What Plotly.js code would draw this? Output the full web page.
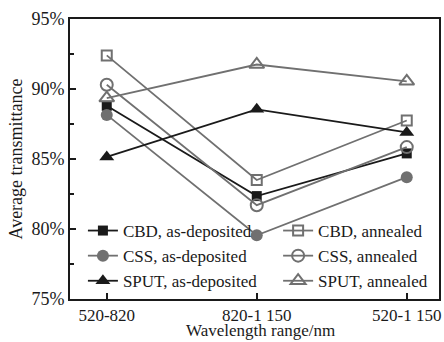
<!DOCTYPE html>
<html>
<head>
<meta charset="utf-8">
<script src="https://cdn.plot.ly/plotly-3.0.1.min.js"></script>
<style>html,body{margin:0;padding:0;background:#fff;}#chart{width:444px;height:342px;}</style>
</head>
<body>
<div id="chart"></div>
<script>
var categories = ['520-820', '820-1 150', '520-1 150'];
var cbdAsDeposited = [88.8, 82.35, 85.4];
var cbdAnnealed = [92.4, 83.5, 87.75];
var cssAsDeposited = [88.15, 79.55, 83.7];
var cssAnnealed = [90.3, 81.7, 85.85];
var sputAsDeposited = [85.15, 88.55, 86.9];
var sputAnnealed = [89.35, 91.75, 90.55];
var seriesNames = ['CBD, as-deposited', 'CBD, annealed', 'CSS, as-deposited', 'CSS, annealed', 'SPUT, as-deposited', 'SPUT, annealed'];
var yTicks = [75, 80, 85, 90, 95];
var yTickLabels = ['75%', '80%', '85%', '90%', '95%'];
var xTitle = 'Wavelength range/nm';
var yTitle = 'Average transmittance';

var BLACK = '#1a1a1a', GREY = '#707070';
function tr(name, y, color, symbol, size, open, legendId) {
  return {
    x: categories, y: y, name: name, type: 'scatter', mode: 'lines+markers',
    legend: legendId,
    line: {color: color, width: 1.8},
    marker: {symbol: symbol, size: size, color: color,
             line: {color: color, width: open ? 2 : 0}}
  };
}
var data = [
  tr(seriesNames[0], cbdAsDeposited, BLACK, 'square', 10, false, 'legend'),
  tr(seriesNames[1], cbdAnnealed, GREY, 'square-open', 10, true, 'legend2'),
  tr(seriesNames[2], cssAsDeposited, GREY, 'circle', 12, false, 'legend'),
  tr(seriesNames[3], cssAnnealed, GREY, 'circle-open', 12, true, 'legend2'),
  tr(seriesNames[4], sputAsDeposited, BLACK, 'triangle-up', 13, false, 'legend'),
  tr(seriesNames[5], sputAnnealed, GREY, 'triangle-up-open', 13, true, 'legend2')
];

var legendCommon = {
  orientation: 'v', xanchor: 'left', y: 0.0, yanchor: 'bottom',
  bgcolor: 'rgba(0,0,0,0)', font: {size: 17, color: '#1a1a1a'},
  tracegroupgap: 0, traceorder: 'normal'
};
var layout = {
  width: 444, height: 342,
  margin: {l: 70, r: 5, t: 19, b: 43},
  paper_bgcolor: '#ffffff', plot_bgcolor: '#ffffff',
  font: {family: '"Liberation Serif", "Times New Roman", serif', color: '#1a1a1a', size: 18},
  showlegend: true,
  legend: Object.assign({}, legendCommon, {x: 0.035}),
  legend2: Object.assign({}, legendCommon, {x: 0.564}),
  xaxis: {
    type: 'category', range: [-0.245, 2.215],
    showline: true, linecolor: '#1a1a1a', linewidth: 2, mirror: true,
    ticks: 'inside', ticklen: 6, tickwidth: 2, tickcolor: '#1a1a1a',
    showgrid: false, zeroline: false,
    tickfont: {size: 17}
  },
  yaxis: {
    range: [75, 95], tickvals: yTicks, ticktext: yTickLabels,
    showline: true, linecolor: '#1a1a1a', linewidth: 2, mirror: true,
    ticks: 'inside', ticklen: 6, tickwidth: 2, tickcolor: '#1a1a1a',
    minor: {dtick: 2.5, ticks: 'inside', ticklen: 4, tickwidth: 1.5, tickcolor: '#1a1a1a', showgrid: false},
    showgrid: false, zeroline: false,
    tickfont: {size: 18},
    title: {text: yTitle, font: {size: 18}, standoff: 4}
  },
  annotations: [{
    text: xTitle, xref: 'paper', yref: 'paper', x: 0.517, y: -0.112,
    xanchor: 'center', yanchor: 'middle', showarrow: false,
    font: {size: 17, color: '#1a1a1a'}
  }]
};
Plotly.newPlot('chart', data, layout, {displayModeBar: false, staticPlot: true});
</script>
</body>
</html>
